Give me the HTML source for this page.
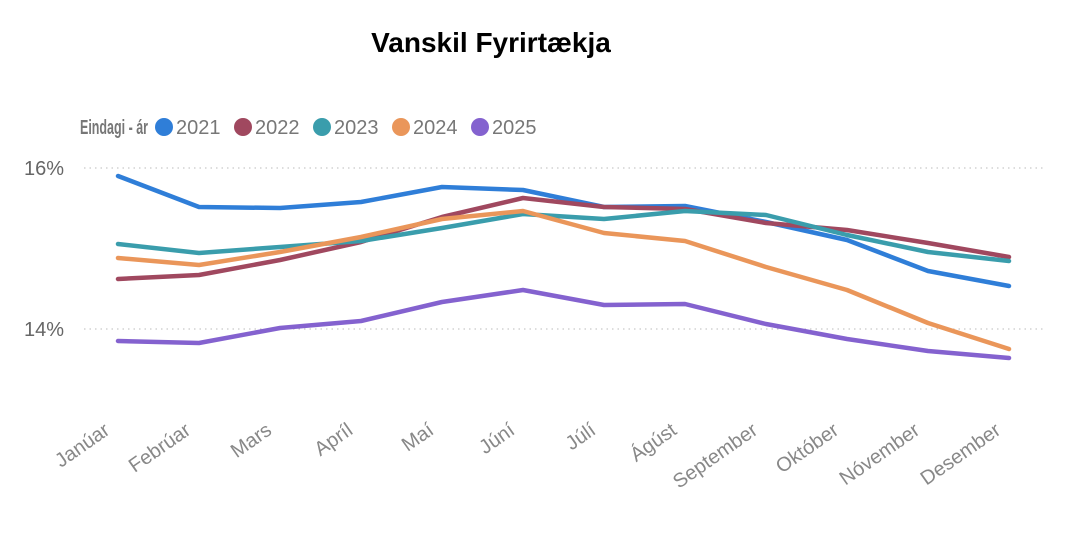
<!DOCTYPE html>
<html><head><meta charset="utf-8"><style>
html,body{margin:0;padding:0;background:#fff;}
svg{display:block;font-family:"Liberation Sans",sans-serif;}
</style></head><body>
<svg width="1065" height="538" viewBox="0 0 1065 538">
<text x="491" y="52" text-anchor="middle" font-size="28" font-weight="bold" fill="#000">Vanskil Fyrirtækja</text>
<text x="80" y="134" font-size="20" font-weight="bold" fill="#777" textLength="68" lengthAdjust="spacingAndGlyphs">Eindagi - ár</text>
<circle cx="164" cy="127" r="9" fill="#2f7ed8"/><text x="176" y="134" font-size="20" fill="#777">2021</text>
<circle cx="243" cy="127" r="9" fill="#a0485f"/><text x="255" y="134" font-size="20" fill="#777">2022</text>
<circle cx="322" cy="127" r="9" fill="#3a9dac"/><text x="334" y="134" font-size="20" fill="#777">2023</text>
<circle cx="401" cy="127" r="9" fill="#ea965a"/><text x="413" y="134" font-size="20" fill="#777">2024</text>
<circle cx="480" cy="127" r="9" fill="#8462cf"/><text x="492" y="134" font-size="20" fill="#777">2025</text>
<line x1="84" y1="168" x2="1045" y2="168" stroke="#bbb" stroke-dasharray="1.5,4"/>
<line x1="84" y1="329" x2="1045" y2="329" stroke="#bbb" stroke-dasharray="1.5,4"/>
<text x="24" y="175" font-size="20" fill="#666">16%</text>
<text x="24" y="336" font-size="20" fill="#666">14%</text>
<g fill="none" stroke-width="4.5" stroke-linejoin="round" stroke-linecap="round">
<polyline stroke="#2f7ed8" points="118,176 199,207 280,208 361,202 442,187 523,190 604,207 685,206 766,222 847,240 928,271 1009,286"/>
<polyline stroke="#a0485f" points="118,279 199,275 280,260 361,242 442,217 523,198 604,207 685,209 766,223 847,230 928,243 1009,257"/>
<polyline stroke="#3a9dac" points="118,244 199,253 280,247 361,241 442,228 523,214 604,219 685,211 766,215 847,235 928,252 1009,261"/>
<polyline stroke="#ea965a" points="118,258 199,265 280,252 361,237 442,219 523,211 604,233 685,241 766,267 847,290 928,323 1009,349"/>
<polyline stroke="#8462cf" points="118,341 199,343 280,328 361,321 442,302 523,290 604,305 685,304 766,324 847,339 928,351 1009,358"/>
</g>
<g font-size="20" fill="#888" text-anchor="end">
<text transform="translate(111,433) rotate(-35)">Janúar</text>
<text transform="translate(192,433) rotate(-35)">Febrúar</text>
<text transform="translate(273,433) rotate(-35)">Mars</text>
<text transform="translate(354,433) rotate(-35)">Apríl</text>
<text transform="translate(435,433) rotate(-35)">Maí</text>
<text transform="translate(516,433) rotate(-35)">Júní</text>
<text transform="translate(597,433) rotate(-35)">Júlí</text>
<text transform="translate(678,433) rotate(-35)">Ágúst</text>
<text transform="translate(759,433) rotate(-35)">September</text>
<text transform="translate(840,433) rotate(-35)">Október</text>
<text transform="translate(921,433) rotate(-35)">Nóvember</text>
<text transform="translate(1002,433) rotate(-35)">Desember</text>
</g>
</svg>
</body></html>
